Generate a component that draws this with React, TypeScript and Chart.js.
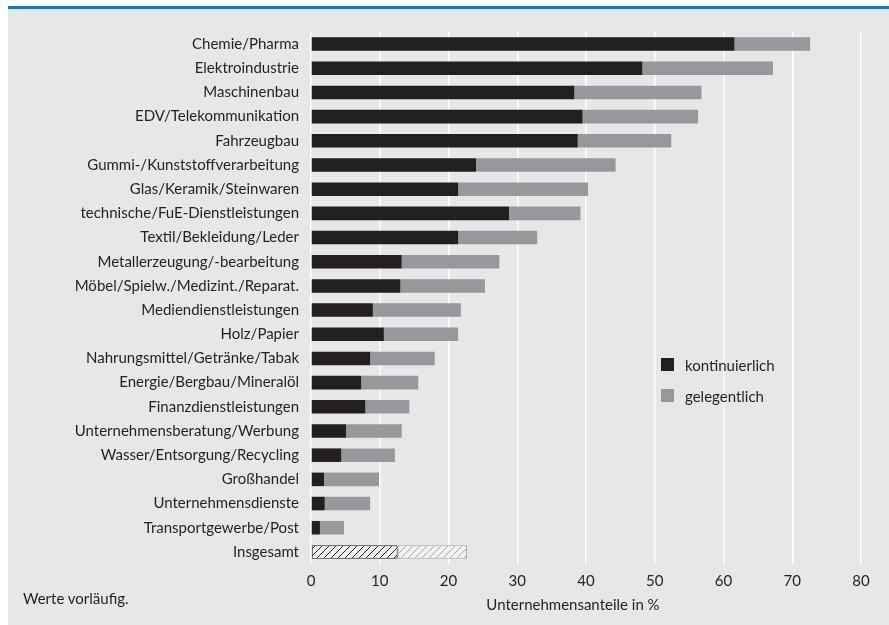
import React, { useEffect, useRef } from "react";
import { Chart, registerables } from "chart.js";

Chart.register(...registerables);

const categories = [
  "Chemie/Pharma",
  "Elektroindustrie",
  "Maschinenbau",
  "EDV/Telekommunikation",
  "Fahrzeugbau",
  "Gummi-/Kunststoffverarbeitung",
  "Glas/Keramik/Steinwaren",
  "technische/FuE-Dienstleistungen",
  "Textil/Bekleidung/Leder",
  "Metallerzeugung/-bearbeitung",
  "Möbel/Spielw./Medizint./Reparat.",
  "Mediendienstleistungen",
  "Holz/Papier",
  "Nahrungsmittel/Getränke/Tabak",
  "Energie/Bergbau/Mineralöl",
  "Finanzdienstleistungen",
  "Unternehmensberatung/Werbung",
  "Wasser/Entsorgung/Recycling",
  "Großhandel",
  "Unternehmensdienste",
  "Transportgewerbe/Post",
  "Insgesamt",
];

const kontinuierlich = [
  61.6, 48.2, 38.3, 39.5, 38.8, 24.0, 21.4, 28.8, 21.4, 13.2, 13.0, 9.0, 10.6, 8.6, 7.3, 7.9, 5.1, 4.4, 1.9, 2.0,
  1.3, 12.6,
];

const gelegentlich = [
  11.0, 19.0, 18.5, 16.8, 13.6, 20.3, 18.9, 10.4, 11.5, 14.2, 12.3, 12.8, 10.8, 9.4, 8.3, 6.4, 8.1, 7.8, 8.0, 6.6,
  3.5, 10.1,
];

const xTicks = [0, 10, 20, 30, 40, 50, 60, 70, 80];

const seriesLabels = ["kontinuierlich", "gelegentlich"];

const FONT = "Lato, 'Open Sans', sans-serif";
const TEXT = "#231f20";
const BLACK = "#231f20";
const GRAY = "#97989b";
const BG = "#e6e7e8";
const BLUE = "#1b75bb";

function makeHatch(line: string, bg: string): CanvasPattern | string {
  const c = document.createElement("canvas");
  const s = 7;
  c.width = s;
  c.height = s;
  const ctx = c.getContext("2d");
  if (!ctx) return bg;
  ctx.fillStyle = bg;
  ctx.fillRect(0, 0, s, s);
  ctx.strokeStyle = line;
  ctx.lineWidth = 1;
  ctx.beginPath();
  ctx.moveTo(0, s);
  ctx.lineTo(s, 0);
  ctx.moveTo(-s, s);
  ctx.lineTo(s, -s);
  ctx.moveTo(0, 2 * s);
  ctx.lineTo(2 * s, 0);
  ctx.stroke();
  const p = ctx.createPattern(c, "repeat");
  return p || bg;
}

export default function App() {
  const ref = useRef<HTMLCanvasElement | null>(null);

  useEffect(() => {
    if (!ref.current) return;
    const last = categories.length - 1;
    const hatchDark = makeHatch(BLACK, "#f2f2f2");
    const hatchLight = makeHatch("#a7a9ac", "#f2f2f2");
    const bgK = categories.map((_, i) => (i === last ? hatchDark : BLACK));
    const bgG = categories.map((_, i) => (i === last ? hatchLight : GRAY));
    const bwK = categories.map((_, i) => (i === last ? 1 : 0));
    const bcK = categories.map((_, i) => (i === last ? BLACK : BLACK));
    const bcG = categories.map((_, i) => (i === last ? "#a7a9ac" : GRAY));

    const chart = new Chart(ref.current, {
      type: "bar",
      data: {
        labels: categories,
        datasets: [
          {
            label: seriesLabels[0],
            data: kontinuierlich,
            backgroundColor: bgK as any,
            borderColor: bcK,
            borderWidth: bwK,
            borderSkipped: false,
            barPercentage: 0.56,
            categoryPercentage: 1,
          },
          {
            label: seriesLabels[1],
            data: gelegentlich,
            backgroundColor: bgG as any,
            borderColor: bcG,
            borderWidth: bwK,
            borderSkipped: false,
            barPercentage: 0.56,
            categoryPercentage: 1,
          },
        ],
      },
      options: {
        indexAxis: "y",
        animation: false,
        responsive: false,
        maintainAspectRatio: false,
        layout: { padding: { top: 26, right: 28, bottom: 0, left: 0 } },
        plugins: {
          legend: { display: false },
          tooltip: { enabled: false },
          title: { display: false },
        },
        scales: {
          x: {
            stacked: true,
            min: 0,
            max: 80,
            afterBuildTicks: (scale: any) => {
              scale.ticks = xTicks.map((v) => ({ value: v }));
            },
            afterFit: (scale: any) => {
              scale.height = 61;
            },
            grid: { color: "#ffffff", lineWidth: 1.5, drawTicks: false },
            border: { display: false },
            ticks: {
              color: TEXT,
              padding: 8,
              font: { family: FONT, size: 15 },
            },
          },
          y: {
            stacked: true,
            afterFit: (scale: any) => {
              scale.width = 303;
            },
            grid: { display: false, drawTicks: false },
            border: { display: false },
            ticks: {
              color: TEXT,
              padding: 12,
              autoSkip: false,
              font: { family: FONT, size: 15 },
            },
          },
        },
      },
    });
    return () => chart.destroy();
  }, []);

  const legendItems = [
    { label: seriesLabels[0], color: BLACK, top: 352 },
    { label: seriesLabels[1], color: GRAY, top: 383 },
  ];

  return (
    <div
      style={{
        position: "absolute",
        left: 8,
        top: 6,
        width: 881,
        height: 619,
        background: BG,
        fontFamily: FONT,
        color: TEXT,
        overflow: "hidden",
      }}
    >
      <div style={{ position: "absolute", left: 0, top: 0, width: 881, height: 3, background: BLUE }} />
      <canvas ref={ref} width={881} height={619} style={{ position: "absolute", left: 0, top: 0, width: 881, height: 619 }} />
      {legendItems.map((it) => (
        <div key={it.label} style={{ position: "absolute", left: 653, top: it.top, height: 13, display: "flex", alignItems: "center" }}>
          <div style={{ width: 13, height: 13, background: it.color }} />
          <span style={{ marginLeft: 11, fontSize: 15, whiteSpace: "nowrap" }}>{it.label}</span>
        </div>
      ))}
      <div style={{ position: "absolute", left: 15, top: 583, fontSize: 15, whiteSpace: "nowrap" }}>Werte vorläufig.</div>
      <div
        style={{
          position: "absolute",
          left: 565 - 150,
          width: 300,
          top: 589,
          fontSize: 15,
          textAlign: "center",
          whiteSpace: "nowrap",
        }}
      >
        Unternehmensanteile in %
      </div>
    </div>
  );
}
